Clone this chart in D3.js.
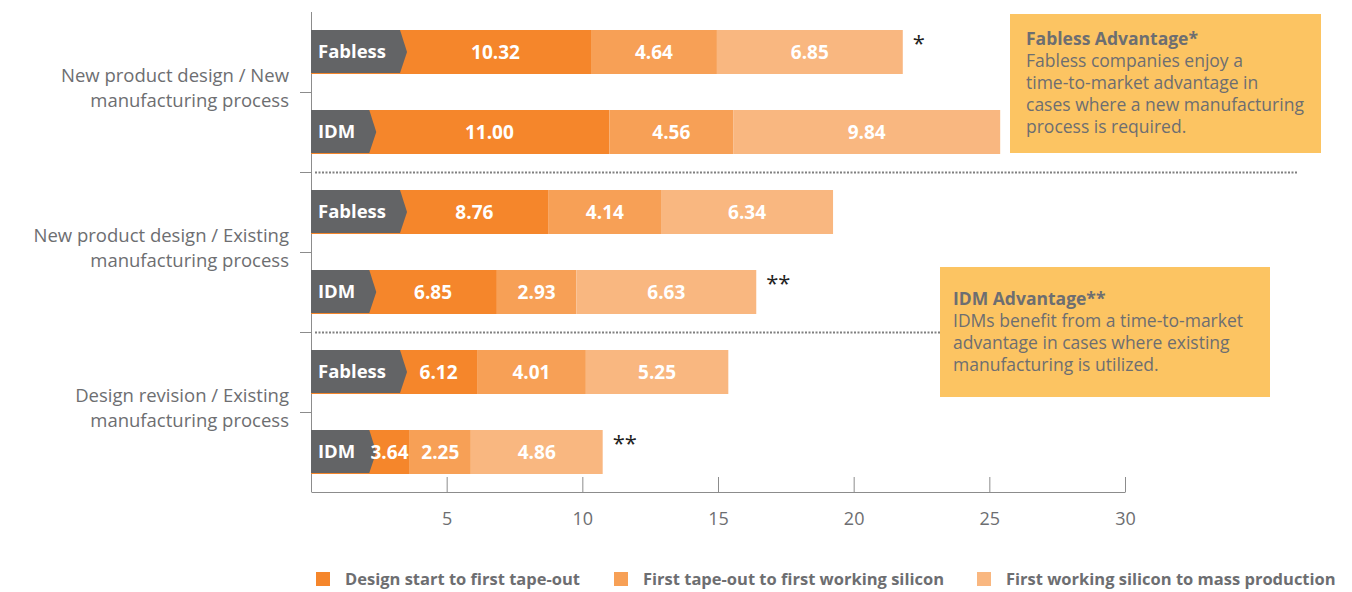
<!DOCTYPE html>
<head>
    <meta charset='utf-8'>
    <style>
        body {
            margin: 0;
            font-family: 'Open Sans', sans-serif;
            background: #fff;
        }
        .cat { font-size: 18.5px; fill: #6d6e71; }
        .seg-label { font-size: 19px; font-weight: bold; fill: #fff; }
        .tag { font-size: 18.5px; font-weight: bold; fill: #fff; }
        .note { font-size: 17.5px; fill: #6d6e71; }
        .legend { font-size: 16.5px; font-weight: bold; fill: #6d6e71; }
        .star { font-size: 22px; fill: #222; }
        .x-axis text { font-size: 18px; fill: #6d6e71; font-family: 'Open Sans', sans-serif; }
        .x-axis path, .x-axis line { stroke: #8c8c8c; }
    </style>
</head>

<body>
<div id='vis'></div>
<script src='https://cdn.jsdelivr.net/npm/d3@7'></script>
<script>
  const groups = [
    ['New product design / New', 'manufacturing process'],
    ['New product design / Existing', 'manufacturing process'],
    ['Design revision / Existing', 'manufacturing process']
  ]
  const companyTypes = ['Fabless', 'IDM']
  const phases = [
    'Design start to first tape-out',
    'First tape-out to first working silicon',
    'First working silicon to mass production'
  ]
  // one row per group x company type, values per phase (months)
  const designToTapeout = [10.32, 11.00, 8.76, 6.85, 6.12, 3.64]
  const tapeoutToSilicon = [4.64, 4.56, 4.14, 2.93, 4.01, 2.25]
  const siliconToProduction = [6.85, 9.84, 6.34, 6.63, 5.25, 4.86]
  const stars = ['*', '', '', '**', '', '**']
  const xTicks = [5, 10, 15, 20, 25, 30]
  const notes = [
    ['Fabless Advantage*', 'Fabless companies enjoy a', 'time-to-market advantage in', 'cases where a new manufacturing', 'process is required.'],
    ['IDM Advantage**', 'IDMs benefit from a time-to-market', 'advantage in cases where existing', 'manufacturing is utilized.']
  ]

  const colors = ['#f5862b', '#f7a056', '#f9b780']

  const width = 1352, height = 592

  const svg = d3.select('#vis')
    .append('svg')
    .attr('width', width)
    .attr('height', height)

  const rows = designToTapeout.map((d, i) => ({
    id: i,
    type: companyTypes[i % 2],
    values: [designToTapeout[i], tapeoutToSilicon[i], siliconToProduction[i]],
    star: stars[i]
  }))

  const x = d3.scaleLinear()
    .domain([0, 30])
    .range([311, 1125])

  const y = d3.scaleBand()
    .domain(rows.map(d => d.id))
    .range([12, 492])
    .paddingInner(0.45)
    .paddingOuter(0.225)

  const step = y.step()

  // dotted separators between groups (the second one runs under the IDM note box)
  ;[[2, 1298], [4, 940]].forEach(([i, x2]) => {
    const ly = Math.round(y(i) - step * 0.225) + 0.5
    svg.append('line')
      .attr('x1', 315).attr('x2', x2)
      .attr('y1', ly).attr('y2', ly)
      .attr('stroke', '#808080')
      .attr('stroke-width', 2)
      .attr('stroke-dasharray', '2,1.5')
  })

  // x axis
  svg.append('g')
    .attr('class', 'x-axis')
    .attr('transform', 'translate(0,492)')
    .call(d3.axisTop(x).tickValues(xTicks).tickSize(15).tickSizeOuter(0).tickFormat(d3.format('d')))
    .call(g => g.selectAll('.tick text').attr('y', 20).attr('dy', '0.71em'))

  // left axis
  svg.append('line')
    .attr('x1', 311.5).attr('x2', 311.5)
    .attr('y1', 12).attr('y2', 492)
    .attr('stroke', '#8c8c8c')
  d3.range(1, 6).forEach(i => {
    const ty = Math.round(y(i) - step * 0.225) + 0.5
    svg.append('line')
      .attr('x1', 300).attr('x2', 311)
      .attr('y1', ty).attr('y2', ty)
      .attr('stroke', '#8c8c8c')
  })

  // group labels, two lines each
  groups.forEach((lines, g) => {
    const cy = y(g * 2 + 1) - step * 0.225 - 4
    lines.forEach((l, k) => {
      svg.append('text')
        .attr('class', 'cat')
        .attr('text-anchor', 'end')
        .attr('x', 289)
        .attr('y', cy - 12.5 + k * 25)
        .attr('dy', '0.35em')
        .text(l)
    })
  })

  // bars
  const row = svg.selectAll('.row')
    .data(rows)
    .join('g')
    .attr('class', 'row')
    .attr('transform', d => `translate(0,${y(d.id)})`)

  row.each(function (d) {
    const g = d3.select(this)
    const h = y.bandwidth()
    let start = 0
    const segs = d.values.map((v, k) => {
      const s = { k, v, x0: start, x1: start + v }
      start += v
      return s
    })

    g.selectAll('rect.seg')
      .data(segs)
      .join('rect')
      .attr('class', 'seg')
      .attr('x', s => x(s.x0))
      .attr('width', s => x(s.x1) - x(s.x0))
      .attr('y', 0)
      .attr('height', h)
      .attr('fill', s => colors[s.k])

    // company type tag
    const tag = g.append('text')
      .attr('class', 'tag')
      .attr('x', 318)
      .attr('y', h / 2)
      .attr('dy', '0.35em')
      .text(d.type)
    const tw = tag.node().getComputedTextLength()
    const right = 318 + tw + 14
    g.insert('path', 'text.tag')
      .attr('d', `M311,0H${right}L${right + 7},${h / 2}L${right},${h - 1}H311Z`)
      .attr('fill', '#636466')

    g.selectAll('text.seg-label')
      .data(segs)
      .join('text')
      .attr('class', 'seg-label')
      .attr('text-anchor', 'middle')
      .attr('x', s => s.k === 0 ? (right + x(s.x1)) / 2 : (x(s.x0) + x(s.x1)) / 2)
      .attr('y', h / 2)
      .attr('dy', '0.35em')
      .text(s => s.v.toFixed(2))

    if (d.star) {
      g.append('text')
        .attr('class', 'star')
        .attr('x', x(start) + 10)
        .attr('y', 21)
        .text(d.star)
    }
  })

  // note boxes
  const boxes = [
    { x: 1010, y: 14, w: 311, h: 139, tx: 1026, ty: 45 },
    { x: 940, y: 267, w: 330, h: 130, tx: 953, ty: 305 }
  ]
  boxes.forEach((b, i) => {
    svg.append('rect')
      .attr('x', b.x).attr('y', b.y)
      .attr('width', b.w).attr('height', b.h)
      .attr('fill', '#fcc462')
    const t = svg.append('text')
      .attr('class', 'note')
      .attr('x', b.tx)
      .attr('y', b.ty)
    notes[i].forEach((l, k) => {
      t.append('tspan')
        .attr('x', b.tx)
        .attr('dy', k === 0 ? 0 : 22)
        .attr('font-weight', k === 0 ? 'bold' : null)
        .text(l)
    })
  })

  // legend
  const legendX = [316, 614, 977]
  const legend = svg.selectAll('.legend-item')
    .data(phases)
    .join('g')
    .attr('class', 'legend-item')
    .attr('transform', (d, i) => `translate(${legendX[i]},572)`)
  legend.append('rect')
    .attr('width', 14).attr('height', 14)
    .attr('fill', (d, i) => colors[i])
  legend.append('text')
    .attr('class', 'legend')
    .attr('x', 29)
    .attr('y', 7)
    .attr('dy', '0.35em')
    .text(d => d)
</script>
</body>
